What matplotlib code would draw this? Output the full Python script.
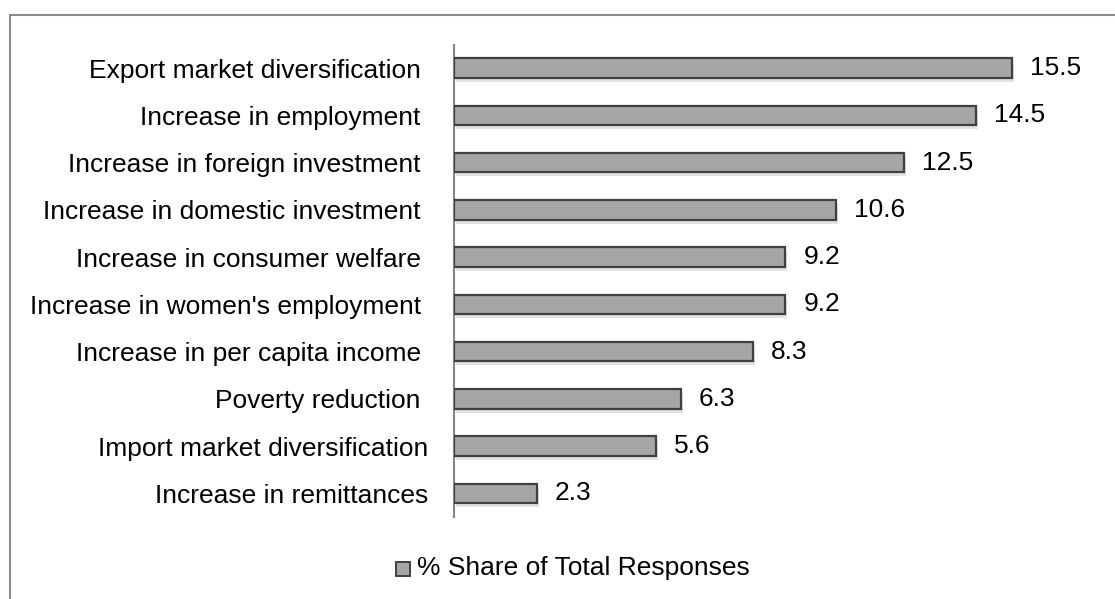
import matplotlib
matplotlib.use("Agg")
import matplotlib.pyplot as plt
from matplotlib.patches import Rectangle
import matplotlib.patheffects as pe

plt.rcParams['font.family'] = ['Liberation Sans', 'DejaVu Sans']

categories = [
    "Export market diversification ",
    "Increase in employment ",
    "Increase in foreign investment ",
    "Increase in domestic investment ",
    "Increase in consumer welfare ",
    "Increase in women's employment ",
    "Increase in per capita income ",
    "Poverty reduction ",
    "Import market diversification",
    "Increase in remittances",
]
values = [15.5, 14.5, 12.5, 10.6, 9.2, 9.2, 8.3, 6.3, 5.6, 2.3]
series_name = "% Share of Total Responses"

W, H = 1115, 599
fig = plt.figure(figsize=(W / 100, H / 100), dpi=100)

# outer frame (cut off at right and bottom, as in reference)
fig.patches.append(Rectangle((10 / W, -0.05), 1.1, 1 - 15 / H + 0.05,
                             transform=fig.transFigure, fill=False,
                             edgecolor='#8c8c8c', linewidth=1.5))

x0, x1 = 454, 1090
y_top, y_bot = 44.5, 517
ax = fig.add_axes([x0 / W, 1 - y_bot / H, (x1 - x0) / W, (y_bot - y_top) / H])
xmax = (x1 - x0) / 36.0

ypos = list(range(len(categories)))
bars = ax.barh(ypos, values, height=0.41, color='#a6a6a6', edgecolor='#404040',
               linewidth=1.6, zorder=3)
for b in bars:
    b.set_path_effects([pe.SimplePatchShadow(offset=(1.5, -3), shadow_rgbFace='#c0c0c0', alpha=0.45), pe.Normal()])

ax.set_xlim(0, xmax)
ax.set_ylim(len(categories) - 0.5, -0.5)
ax.set_yticks(ypos)
ax.set_yticklabels(categories, fontsize=19, color='#000000')
ax.tick_params(axis='y', length=0, pad=18.7)
ax.set_xticks([])
for s in ['top', 'right', 'bottom']:
    ax.spines[s].set_visible(False)
ax.spines['left'].set_color('#868686')
ax.spines['left'].set_linewidth(1.5)

for y, v in zip(ypos, values):
    ax.annotate(f"{v:.1f}", (v, y), xytext=(13, 0), textcoords='offset points',
                va='center', ha='left', fontsize=19)

fig.patches.append(Rectangle((396 / W, 1 - 576 / H), 14 / W, 14 / H,
                             transform=fig.transFigure, facecolor='#a6a6a6',
                             edgecolor='#404040', linewidth=1.4))
fig.text(417 / W, 1 - 568 / H, series_name, fontsize=19, va='center', ha='left')

fig.savefig("out.png", dpi=100)
